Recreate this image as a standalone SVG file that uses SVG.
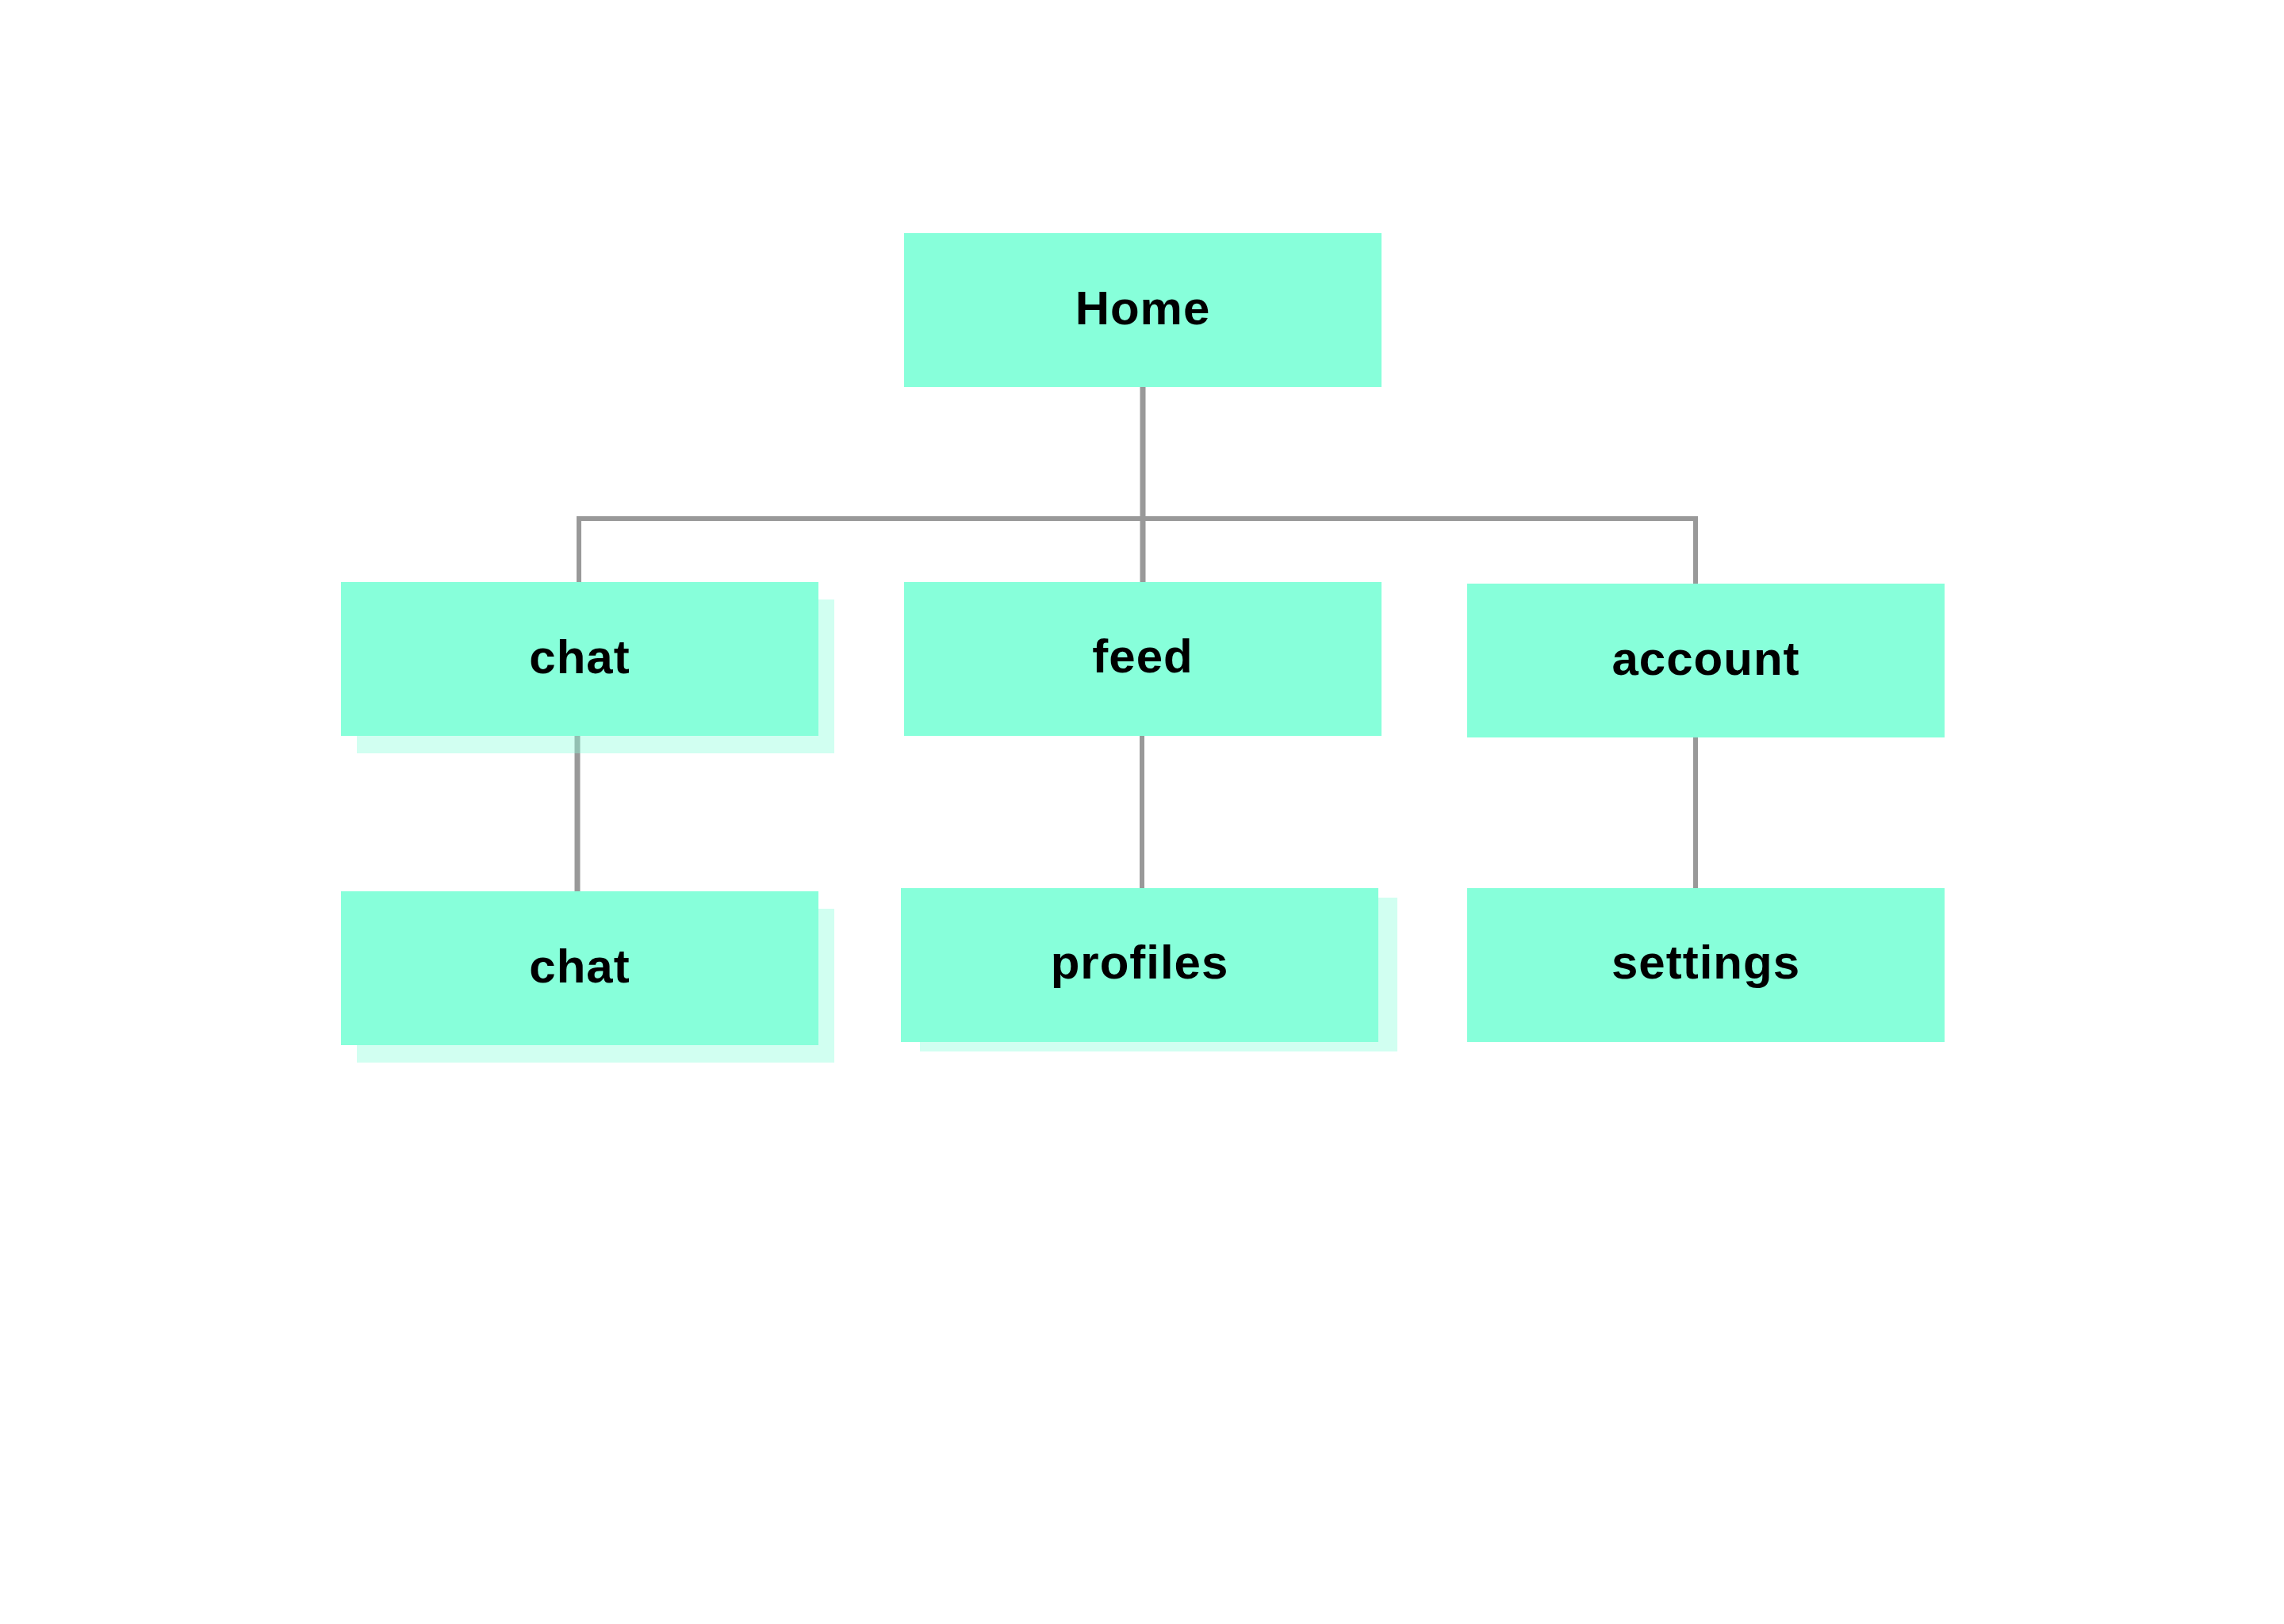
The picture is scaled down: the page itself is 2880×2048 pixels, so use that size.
<svg xmlns="http://www.w3.org/2000/svg" width="2880" height="2048" viewBox="0 0 2880 2048">
<style>
.box{fill:#87FFDA}
.shadow{fill:#87FFDA;fill-opacity:0.38}
.conn{stroke:#999999;fill:none;stroke-linecap:butt;stroke-linejoin:miter}
.lbl{font-family:"Liberation Sans",Arial,sans-serif;font-weight:bold;font-size:60px;fill:#000000;text-anchor:middle;letter-spacing:1px}
</style>
<rect x="0" y="0" width="2880" height="2048" fill="#FFFFFF"/>
<g id="connectors">
<path class="conn" stroke-width="6" d="M730,734 V654 H2138 V736"/>
<path class="conn" stroke-width="7" d="M1441,484 V734"/>
<path class="conn" stroke-width="7" d="M728,928 V1124"/>
<path class="conn" stroke-width="6" d="M1440,928 V1120"/>
<path class="conn" stroke-width="6" d="M2138,930 V1120"/>
</g>
<g id="node-home">
<rect class="box" x="1140" y="294" width="602" height="194"/>
<text class="lbl" x="1441" y="409">Home</text>
</g>
<g id="node-chat">
<rect class="shadow" x="450" y="756" width="602" height="194"/>
<rect class="box" x="430" y="734" width="602" height="194"/>
<text class="lbl" x="731" y="849">chat</text>
</g>
<g id="node-feed">
<rect class="box" x="1140" y="734" width="602" height="194"/>
<text class="lbl" x="1441" y="848">feed</text>
</g>
<g id="node-account">
<rect class="box" x="1850" y="736" width="602" height="194"/>
<text class="lbl" x="2151" y="851">account</text>
</g>
<g id="node-chat2">
<rect class="shadow" x="450" y="1146" width="602" height="194"/>
<rect class="box" x="430" y="1124" width="602" height="194"/>
<text class="lbl" x="731" y="1239">chat</text>
</g>
<g id="node-profiles">
<rect class="shadow" x="1160" y="1132" width="602" height="194"/>
<rect class="box" x="1136" y="1120" width="602" height="194"/>
<text class="lbl" x="1437" y="1234">profiles</text>
</g>
<g id="node-settings">
<rect class="box" x="1850" y="1120" width="602" height="194"/>
<text class="lbl" x="2151" y="1234">settings</text>
</g>
</svg>
